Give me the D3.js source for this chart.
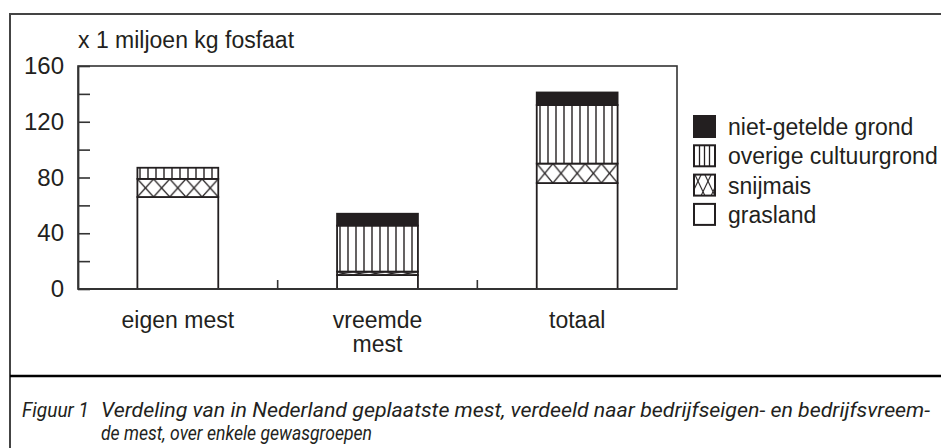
<!DOCTYPE html>
<html>
<head>
<meta charset="utf-8">
<script src="https://cdn.jsdelivr.net/npm/d3@7"></script>
<style>
  body { margin: 0; background: #fff; }
  svg text { font-family: "Liberation Sans", Arial, sans-serif; fill: #231f20; }
  svg .cap text { font-family: "Liberation Sans Narrow", "Roboto", sans-serif; }
</style>
</head>
<body>
<div class="container"></div>
<script>
const categories = ['eigen mest', 'vreemde mest', 'totaal'];
const labelLines = [['eigen mest'], ['vreemde', 'mest'], ['totaal']];
const seriesKeys = ['grasland', 'snijmais', 'overige cultuurgrond', 'niet-getelde grond'];
const grasland = [66, 10, 76];
const snijmais = [13, 2.5, 14];
const overige = [8, 33, 42];
const nietGeteld = [0, 8.5, 9];
const yTicks = [0, 20, 40, 60, 80, 100, 120, 140, 160];
const legendOrder = ['niet-getelde grond', 'overige cultuurgrond', 'snijmais', 'grasland'];

const WIDTH = 941;
const HEIGHT = 448;
const INK = '#231f20';

var rows = categories.map((c, i) => ({
    cat: c,
    'grasland': grasland[i],
    'snijmais': snijmais[i],
    'overige cultuurgrond': overige[i],
    'niet-getelde grond': nietGeteld[i]
}));

var svg = d3.select('.container').append('svg')
    .attr('width', WIDTH)
    .attr('height', HEIGHT);

var defs = svg.append('defs');

// vertical hatch
var vp = defs.append('pattern')
    .attr('id', 'vlines')
    .attr('patternUnits', 'userSpaceOnUse')
    .attr('width', 8).attr('height', 8);
vp.append('rect').attr('width', 8).attr('height', 8).attr('fill', '#fff');
vp.append('line').attr('x1', 4).attr('x2', 4).attr('y1', 0).attr('y2', 8)
    .attr('stroke', INK).attr('stroke-width', 1.4);

var xScale = d3.scaleBand()
    .domain(categories)
    .range([78, 677])
    .padding(0);

var yScale = d3.scaleLinear()
    .domain([0, 160])
    .range([289, 66]);

var barW = xScale.bandwidth() * 0.405;

// outer frame
svg.append('path')
    .attr('d', 'M10,448 V14 H941')
    .attr('fill', 'none').attr('stroke', '#444').attr('stroke-width', 2);
svg.append('line')
    .attr('x1', 10).attr('x2', 941).attr('y1', 376).attr('y2', 376)
    .attr('stroke', '#000').attr('stroke-width', 2.5);

// plot box
svg.append('rect')
    .attr('x', xScale.range()[0]).attr('y', yScale(160))
    .attr('width', xScale.range()[1] - xScale.range()[0])
    .attr('height', yScale(0) - yScale(160))
    .attr('fill', 'none').attr('stroke', '#333').attr('stroke-width', 1.6);

var stack = d3.stack().keys(seriesKeys)(rows);

stack.forEach(function (layer) {
    var key = layer.key;
    var g = svg.append('g');
    layer.forEach(function (d, i) {
        var x0 = xScale(d.data.cat) + (xScale.bandwidth() - barW) / 2;
        var y0 = yScale(d[1]);
        var h = yScale(d[0]) - yScale(d[1]);
        if (h <= 0) return;
        var fill = '#fff';
        if (key === 'niet-getelde grond') fill = INK;
        else if (key === 'overige cultuurgrond') fill = 'url(#vlines)';
        else if (key === 'snijmais') {
            var id = 'cross' + i;
            var p = defs.append('pattern')
                .attr('id', id)
                .attr('patternUnits', 'userSpaceOnUse')
                .attr('x', x0).attr('y', y0)
                .attr('width', barW / 5).attr('height', h);
            p.append('rect').attr('width', barW / 5).attr('height', h).attr('fill', '#fff');
            p.append('path')
                .attr('d', `M0,0 L${barW / 5},${h} M${barW / 5},0 L0,${h}`)
                .attr('stroke', INK).attr('stroke-width', 1.3).attr('fill', 'none');
            fill = `url(#${id})`;
        }
        g.append('rect')
            .attr('x', x0).attr('y', y0)
            .attr('width', barW).attr('height', h)
            .attr('fill', fill)
            .attr('stroke', INK).attr('stroke-width', 1.8);
    });
});

// y axis
var yAxis = d3.axisLeft(yScale)
    .tickValues(yTicks)
    .tickSizeInner(-12)
    .tickSizeOuter(0)
    .tickPadding(14)
    .tickFormat(v => (v % 40 === 0 ? v : ''));

var ya = svg.append('g')
    .attr('transform', `translate(${xScale.range()[0]},0)`)
    .call(yAxis);
ya.select('.domain').attr('stroke', '#333').attr('stroke-width', 1.8);
ya.selectAll('line').attr('stroke', '#333').attr('stroke-width', 1.6);
ya.selectAll('text')
    .style('font-size', '24px')
    .attr('fill', INK);

// x axis baseline and separator ticks
svg.append('line')
    .attr('x1', xScale.range()[0]).attr('x2', xScale.range()[1])
    .attr('y1', yScale(0)).attr('y2', yScale(0))
    .attr('stroke', '#333').attr('stroke-width', 2);

svg.selectAll('.sep').data(categories.slice(0, -1))
    .enter().append('line')
    .attr('class', 'sep')
    .attr('x1', c => xScale(c) + xScale.bandwidth())
    .attr('x2', c => xScale(c) + xScale.bandwidth())
    .attr('y1', yScale(0)).attr('y2', yScale(0) - 9)
    .attr('stroke', '#333').attr('stroke-width', 1.6);

svg.selectAll('.xlab').data(categories)
    .enter().append('text')
    .attr('class', 'xlab')
    .attr('text-anchor', 'middle')
    .style('font-size', '23px')
    .each(function (c, i) {
        var t = d3.select(this);
        labelLines[i].forEach(function (ln, j) {
            t.append('tspan')
                .attr('x', xScale(c) + xScale.bandwidth() / 2)
                .attr('y', 328 + j * 24)
                .text(ln);
        });
    });

// y title
svg.append('text')
    .attr('x', 78).attr('y', 48)
    .style('font-size', '23px')
    .text('x 1 miljoen kg fosfaat');

// legend
var lg = svg.append('g').attr('transform', 'translate(694,116)');
var item = lg.selectAll('g').data(legendOrder)
    .enter().append('g')
    .attr('transform', (d, i) => `translate(0,${i * 29.3})`);

item.each(function (k) {
    var g = d3.select(this);
    if (k === 'snijmais') {
        var lp = defs.append('pattern')
            .attr('id', 'crossLeg')
            .attr('patternUnits', 'userSpaceOnUse')
            .attr('x', 694).attr('y', 116 + 2 * 29.3)
            .attr('width', 10).attr('height', 21);
        lp.append('rect').attr('width', 10).attr('height', 21).attr('fill', '#fff');
        lp.append('path').attr('d', 'M0,0 L10,21 M10,0 L0,21')
            .attr('stroke', INK).attr('stroke-width', 1.1);
    }
    var fill = k === 'niet-getelde grond' ? INK
        : k === 'overige cultuurgrond' ? '#fff'
        : k === 'snijmais' ? 'url(#crossLeg)' : '#fff';
    g.append('rect')
        .attr('width', 21).attr('height', 21)
        .attr('fill', fill)
        .attr('stroke', INK).attr('stroke-width', 2);
    if (k === 'overige cultuurgrond') {
        [5.5, 10.5, 15.5].forEach(function (lx) {
            g.append('line').attr('x1', lx).attr('x2', lx).attr('y1', 0).attr('y2', 21)
                .attr('stroke', INK).attr('stroke-width', 1.3);
        });
    }
    g.append('text')
        .attr('x', 34).attr('y', 19)
        .style('font-size', '23px')
        .text(k);
});

// caption
var cap = svg.append('g').attr('class', 'cap').style('font-style', 'italic');
cap.append('text')
    .attr('x', 22).attr('y', 417)
    .style('font-size', '21px')
    .attr('textLength', 67).attr('lengthAdjust', 'spacingAndGlyphs')
    .text('Figuur 1');
cap.append('text')
    .attr('x', 101).attr('y', 417)
    .style('font-size', '21px')
    .attr('textLength', 829).attr('lengthAdjust', 'spacingAndGlyphs')
    .text('Verdeling van in Nederland geplaatste mest, verdeeld naar bedrijfseigen- en bedrijfsvreem-');
cap.append('text')
    .attr('x', 101).attr('y', 440)
    .style('font-size', '21px')
    .attr('textLength', 271).attr('lengthAdjust', 'spacingAndGlyphs')
    .text('de mest, over enkele gewasgroepen');
</script>
</body>
</html>
